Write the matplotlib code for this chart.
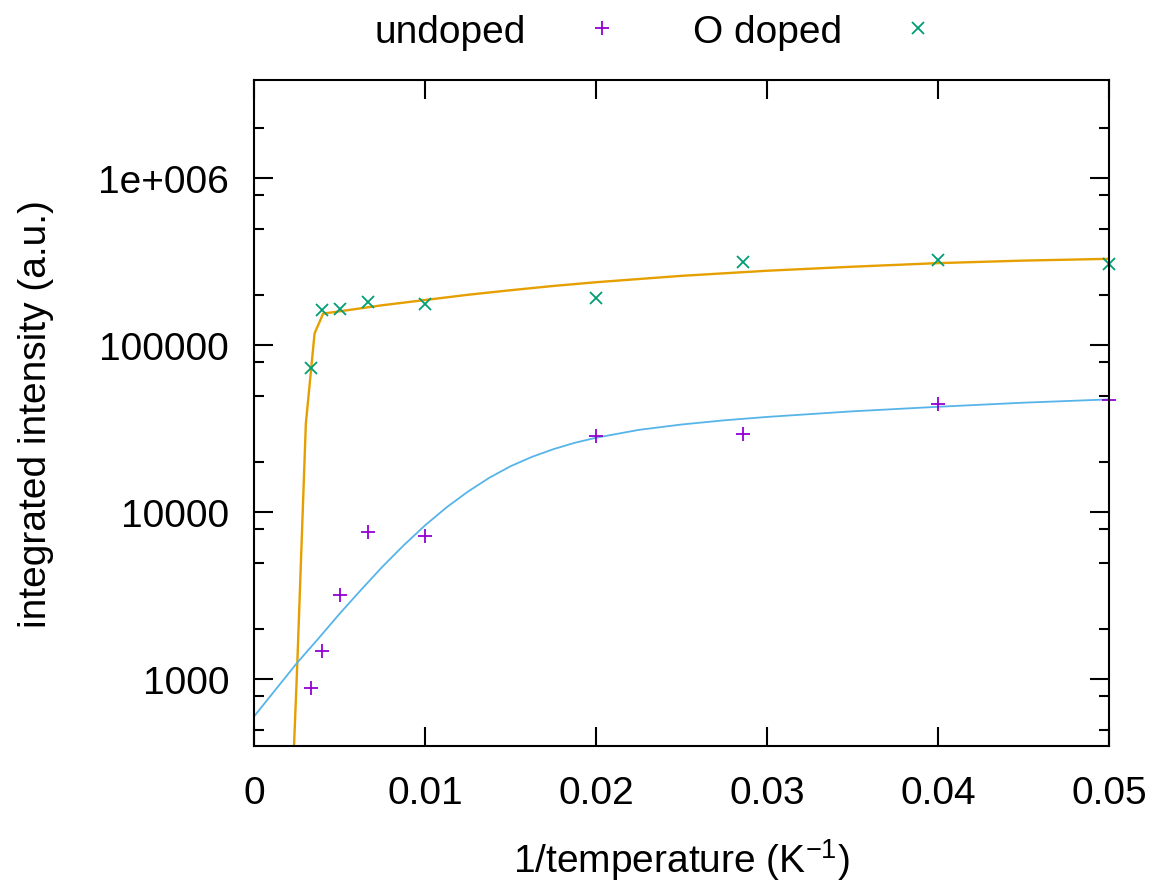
import matplotlib
matplotlib.use("Agg")
import matplotlib.pyplot as plt
import numpy as np
from matplotlib.ticker import FixedLocator, LogLocator, NullFormatter

plt.rcParams['font.family'] = ['Liberation Sans', 'DejaVu Sans']
plt.rcParams['mathtext.fontset'] = 'custom'
plt.rcParams['mathtext.rm'] = 'Liberation Sans'
plt.rcParams['mathtext.default'] = 'regular'

# measured points (temperature in K, intensity in a.u.)
temperature = np.array([300, 250, 200, 150, 100, 50, 35, 25, 20])
undoped = [890, 1480, 3200, 7600, 7200, 28700, 29500, 44600, 47100]
o_doped = [72800, 164000, 166000, 183000, 176000, 191000, 318000, 326000, 309000]

# fit curves
fit_undoped_x = [0, 0.0025, 0.00375, 0.005, 0.00625, 0.0075, 0.00875, 0.01, 0.01125,
                 0.0125, 0.01375, 0.015, 0.01625, 0.0175, 0.01875, 0.02, 0.0225,
                 0.025, 0.0275, 0.03, 0.035, 0.04, 0.045, 0.05]
fit_undoped_y = [600, 1250, 1750, 2470, 3430, 4720, 6350, 8360, 10700,
                 13300, 16100, 18900, 21500, 23900, 26100, 28000, 31200,
                 33600, 35600, 37300, 40300, 42900, 45400, 47500]
fit_odoped_x = [0.00202, 0.00253, 0.00303, 0.00354, 0.00404, 0.005, 0.0075, 0.01,
                0.0125, 0.015, 0.0175, 0.02, 0.025, 0.03, 0.035, 0.04, 0.045, 0.05]
fit_odoped_y = [61, 1240, 34000, 118000, 155000, 160000, 174000, 187000,
                201000, 214000, 227000, 239000, 261000, 280000, 296000, 311000, 322000, 330000]

x_ticks = [0, 0.01, 0.02, 0.03, 0.04, 0.05]
x_tick_labels = ['0', '0.01', '0.02', '0.03', '0.04', '0.05']
y_ticks = [1e3, 1e4, 1e5, 1e6]
y_tick_labels = ['1000', '10000', '100000', '1e+006']

inv_temp = 1.0 / temperature
fs = 28

fig = plt.figure(figsize=(11.6, 8.87), dpi=100)
ax = fig.add_axes([0.219, 0.158, 0.737, 0.751])

ax.plot(fit_odoped_x, fit_odoped_y, color='#E69F00', lw=1.7)
ax.plot(fit_undoped_x, fit_undoped_y, color='#56B4E9', lw=1.3)
ax.plot(inv_temp, undoped, ls='none', marker='+', ms=10, mew=1.3,
        color='#9400D3', label='undoped', clip_on=False)
ax.plot(inv_temp, o_doped, ls='none', marker='x', ms=9, mew=1.3,
        color='#009E73', label='O doped', clip_on=False)

ax.set_yscale('log')
ax.set_xlim(0, 0.05)
ax.set_ylim(400, 3.9e6)

ax.xaxis.set_major_locator(FixedLocator(x_ticks))
ax.set_xticklabels(x_tick_labels)
ax.yaxis.set_major_locator(FixedLocator(y_ticks))
ax.set_yticklabels(y_tick_labels)
ax.yaxis.set_minor_locator(LogLocator(base=10, subs=[2, 5, 8]))
ax.yaxis.set_minor_formatter(NullFormatter())
ax.xaxis.set_minor_locator(FixedLocator([]))

ax.tick_params(which='both', direction='in', top=True, right=True, width=1.5, labelsize=fs)
ax.tick_params(which='major', length=13.5)
ax.tick_params(which='minor', length=7)
ax.tick_params(axis='y', pad=18)
ax.tick_params(axis='x', pad=21)
for s in ax.spines.values():
    s.set_linewidth(1.5)

ax.set_xlabel(r'1/temperature (K$^{-1}$)', fontsize=fs, labelpad=18)
ax.set_ylabel('integrated intensity (a.u.)', fontsize=fs, labelpad=32)

fig.legend(loc='center', bbox_to_anchor=(0.574, 0.963), ncol=2, frameon=False,
           markerfirst=False, fontsize=fs, handletextpad=0.95, columnspacing=1.35,
           handlelength=2)

fig.savefig('out.png', dpi=100)
